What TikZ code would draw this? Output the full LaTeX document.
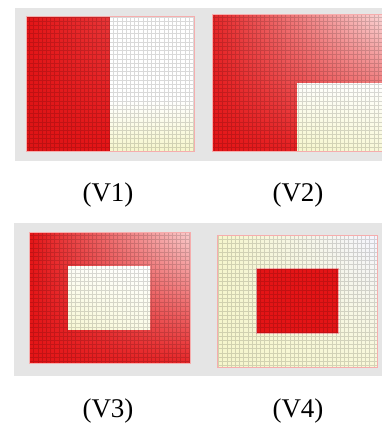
\documentclass[tikz,border=0pt]{standalone}
\usepackage{fontspec}
\setmainfont{Liberation Serif}
\usetikzlibrary{shadings}
\definecolor{fred}{RGB}{228,20,22}
\definecolor{fyel}{RGB}{246,246,204}
\definecolor{bggray}{RGB}{229,229,229}
\tikzset{
  gridln/.style={draw=black,opacity=0.15,line width=0.35pt},
  edge/.style={draw=fred!35!white,line width=0.6pt},
  lab/.style={font=\fontsize{27}{30}\selectfont,inner sep=0pt}
}
\begin{document}
\begin{tikzpicture}[x=1pt,y=1pt]
\useasboundingbox (0,0) rectangle (382,-423);
\fill[white] (0,0) rectangle (382,-423);
% gray backgrounds
\fill[bggray] (15,-8) rectangle (382,-161);
\fill[bggray] (14,-223) rectangle (382,-376);
% ---------- V1 ----------
\shade[upper left=fred, upper right=fred!85!white, lower left=fred!97!black, lower right=fred] (26,-151) rectangle (110,-16);
\fill[white] (110,-100) rectangle (194,-16);
\shade[top color=white, bottom color=fyel] (110,-151) rectangle (194,-100);
\draw[gridln] (26,-151) grid[step=4.2pt] (194,-16);
\draw[edge] (26,-151) rectangle (194,-16);
% ---------- V2 ----------
\shade[upper left=fred!92!white, upper right=fred!18!white, lower left=fred, lower right=fred!90!white] (212,-151) rectangle (382,-14);
\shade[upper left=white!92!fyel, upper right=white, lower left=fyel, lower right=fyel!75!white] (297,-151) rectangle (382,-83);
\draw[gridln] (212,-151) grid[step=4.2pt] (382,-14);
\draw[edge] (382,-151) -- (212,-151) -- (212,-14) -- (382,-14);
% ---------- V3 ----------
\shade[upper left=fred, upper right=fred!22!white, lower left=fred, lower right=fred!92!white] (29,-363) rectangle (190,-232);
\shade[upper left=white!85!fyel, upper right=white, lower left=fyel!85!white, lower right=fyel!45!white] (68,-329) rectangle (150,-266);
\draw[gridln] (29,-363) grid[step=4.2pt] (190,-232);
\draw[edge] (29,-363) rectangle (190,-232);
% ---------- V4 ----------
\shade[upper left=fyel, upper right=white!96!blue, lower left=fyel, lower right=fyel!75!white] (217,-367) rectangle (377,-235);
\fill[fred] (256,-333) rectangle (338,-268);
\draw[draw=fred!35!white,line width=1pt] (256,-333) rectangle (338,-268);
\draw[gridln] (217,-367) grid[step=4.2pt] (377,-235);
\draw[edge] (217,-367) rectangle (377,-235);
% ---------- labels ----------
\node[lab] (l1) at (108,-195) {(V1)};
\node[lab] (l2) at (298,-195) {(V2)};
\node[lab] (l3) at (108,-411) {(V3)};
\node[lab] (l4) at (298,-411) {(V4)};
\end{tikzpicture}
\end{document}
